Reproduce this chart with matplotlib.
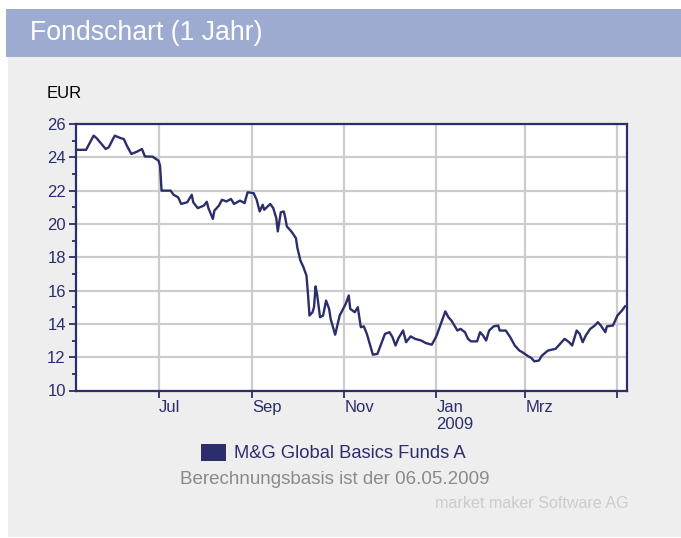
import matplotlib
matplotlib.use("Agg")
import matplotlib.pyplot as plt
from matplotlib.patches import Rectangle
from matplotlib.ticker import MultipleLocator
import datetime as dt

# ---- data ----
dates = [
    "2008-05-08", "2008-05-14", "2008-05-19", "2008-05-21", "2008-05-27", "2008-05-29",
    "2008-06-02", "2008-06-06", "2008-06-08", "2008-06-10", "2008-06-13", "2008-06-17",
    "2008-06-20", "2008-06-22", "2008-06-27", "2008-07-01", "2008-07-02", "2008-07-03",
    "2008-07-09", "2008-07-11", "2008-07-14", "2008-07-16", "2008-07-20", "2008-07-23",
    "2008-07-24", "2008-07-27", "2008-07-31", "2008-08-02", "2008-08-03", "2008-08-06",
    "2008-08-07", "2008-08-10", "2008-08-12", "2008-08-15", "2008-08-18", "2008-08-20",
    "2008-08-24", "2008-08-27", "2008-08-29", "2008-09-02", "2008-09-04", "2008-09-06",
    "2008-09-08", "2008-09-09", "2008-09-13", "2008-09-15", "2008-09-17", "2008-09-18",
    "2008-09-20", "2008-09-22", "2008-09-23", "2008-09-24", "2008-09-27", "2008-09-30",
    "2008-10-01", "2008-10-03", "2008-10-05", "2008-10-07", "2008-10-08", "2008-10-09",
    "2008-10-11", "2008-10-12", "2008-10-13", "2008-10-14", "2008-10-16", "2008-10-18",
    "2008-10-20", "2008-10-22", "2008-10-23", "2008-10-26", "2008-10-29", "2008-11-02",
    "2008-11-04", "2008-11-05", "2008-11-08", "2008-11-10", "2008-11-12", "2008-11-14",
    "2008-11-16", "2008-11-20", "2008-11-23", "2008-11-28", "2008-12-01", "2008-12-03",
    "2008-12-05", "2008-12-07", "2008-12-10", "2008-12-12", "2008-12-15", "2008-12-18",
    "2008-12-22", "2008-12-25", "2008-12-29", "2009-01-01", "2009-01-04", "2009-01-07",
    "2009-01-09", "2009-01-11", "2009-01-13", "2009-01-15", "2009-01-17", "2009-01-20",
    "2009-01-22", "2009-01-24", "2009-01-28", "2009-01-30", "2009-02-01", "2009-02-03",
    "2009-02-05", "2009-02-08", "2009-02-11", "2009-02-12", "2009-02-16", "2009-02-19",
    "2009-02-22", "2009-02-25", "2009-02-27", "2009-03-03", "2009-03-05", "2009-03-07",
    "2009-03-10", "2009-03-12", "2009-03-16", "2009-03-21", "2009-03-24", "2009-03-27",
    "2009-03-30", "2009-04-01", "2009-04-04", "2009-04-06", "2009-04-08", "2009-04-10",
    "2009-04-13", "2009-04-16", "2009-04-18", "2009-04-20", "2009-04-23", "2009-04-24",
    "2009-04-28", "2009-04-30", "2009-05-01", "2009-05-04", "2009-05-06",
]
prices = [
    24.45, 24.45, 25.30, 25.15, 24.50, 24.60,
    25.30, 25.15, 25.10, 24.70, 24.20, 24.35,
    24.50, 24.05, 24.04, 23.80, 23.50, 22.00,
    22.00, 21.75, 21.60, 21.20, 21.30, 21.75,
    21.30, 20.95, 21.10, 21.33, 20.96, 20.30,
    20.80, 21.10, 21.45, 21.35, 21.50, 21.20,
    21.40, 21.25, 21.90, 21.85, 21.45, 20.75,
    21.15, 20.85, 21.20, 20.95, 20.35, 19.55,
    20.70, 20.75, 20.35, 19.85, 19.55, 19.15,
    18.55, 17.80, 17.40, 16.90, 15.80, 14.50,
    14.70, 15.00, 16.25, 15.80, 14.40, 14.50,
    15.40, 14.90, 14.30, 13.35, 14.50, 15.20,
    15.70, 14.90, 14.70, 15.00, 13.80, 13.85,
    13.40, 12.15, 12.20, 13.40, 13.50, 13.20,
    12.70, 13.15, 13.60, 12.90, 13.25, 13.10,
    13.00, 12.85, 12.75, 13.25, 14.00, 14.75,
    14.40, 14.20, 13.90, 13.60, 13.70, 13.50,
    13.10, 12.95, 12.95, 13.50, 13.30, 13.00,
    13.60, 13.85, 13.90, 13.60, 13.60, 13.20,
    12.70, 12.40, 12.30, 12.05, 11.95, 11.75,
    11.80, 12.10, 12.40, 12.50, 12.80, 13.10,
    12.90, 12.70, 13.60, 13.40, 12.90, 13.30,
    13.70, 13.90, 14.10, 13.90, 13.50, 13.85,
    13.90, 14.30, 14.50, 14.80, 15.05,
]
tick_dates = ["2008-07-01", "2008-09-01", "2008-11-01", "2009-01-01", "2009-03-01", "2009-05-01"]
tick_labels = ["Jul", "Sep", "Nov", "Jan\n2009", "Mrz", ""]
y_ticks = [10, 12, 14, 16, 18, 20, 22, 24, 26]
series_name = "M&G Global Basics Funds A"
title = "Fondschart (1 Jahr)"
unit = "EUR"
note = "Berechnungsbasis ist der 06.05.2009"
credit = "market maker Software AG"

# ---- style ----
W, H = 681, 538
NAVY = "#2b2e6b"
HEADER = "#9dabd0"
PANEL = "#eeeeee"
GRID = "#cccccc"
FONT = ["Liberation Sans", "DejaVu Sans"]
plt.rcParams["font.family"] = FONT

fig = plt.figure(figsize=(W / 100, H / 100), dpi=100)
fig.patch.set_facecolor("white")


def fx(px):
    return px / W


def fy(py):
    return 1 - py / H


# background panels
fig.patches.append(Rectangle((fx(6), fy(57)), fx(W - 6), 48 / H, transform=fig.transFigure,
                             facecolor=HEADER, edgecolor="none", zorder=0))
fig.patches.append(Rectangle((fx(8), fy(537)), fx(W - 8), 480 / H, transform=fig.transFigure,
                             facecolor=PANEL, edgecolor="none", zorder=0))

fig.text(fx(30), fy(33), title, color="white", fontsize=19.2, va="center", ha="left")
fig.text(fx(47), fy(94), unit, color="black", fontsize=12, va="center", ha="left")

# axes
left, right, top, bottom = 75.5, 626.5, 124.0, 390.5
ax = fig.add_axes([fx(left), fy(bottom), fx(right - left), (bottom - top) / H])
ax.set_zorder(3)
ax.set_facecolor("white")

x = [dt.datetime.strptime(d, "%Y-%m-%d") for d in dates]
ax.plot(x, prices, color=NAVY, lw=1.7, zorder=3)

ax.set_xlim(dt.datetime(2008, 5, 7), dt.datetime(2009, 5, 7))
ax.set_ylim(10, 26)

ax.set_yticks(y_ticks)
ax.yaxis.set_minor_locator(MultipleLocator(1))
ax.set_xticks([dt.datetime.strptime(d, "%Y-%m-%d") for d in tick_dates])
ax.set_xticklabels(tick_labels)

ax.grid(True, which="major", color=GRID, lw=1.6, zorder=1)
for s in ax.spines.values():
    s.set_color(NAVY)
    s.set_linewidth(1.6)

ax.tick_params(axis="y", which="major", length=5, width=1.3, color=NAVY,
               labelcolor=NAVY, labelsize=12, pad=2)
ax.tick_params(axis="y", which="minor", length=3, width=1.3, color=NAVY)
ax.tick_params(axis="x", which="major", length=5, width=1.3, color=NAVY,
               labelcolor=NAVY, labelsize=12, pad=2)
for lbl in ax.get_xticklabels():
    lbl.set_horizontalalignment("left")
    lbl.set_linespacing(1.15)

# legend-like block and notes
fig.patches.append(Rectangle((fx(201), fy(461)), 25 / W, 17 / H, transform=fig.transFigure,
                             facecolor=NAVY, edgecolor="none", zorder=2))
fig.text(fx(234), fy(453), series_name, color=NAVY, fontsize=13.2, va="center", ha="left")
fig.text(fx(180), fy(480), note, color="#8a8a8a", fontsize=13.5, va="center", ha="left")
fig.text(fx(629), fy(504), credit, color="#cccccc", fontsize=11.6, va="center", ha="right")

fig.savefig("out.png", dpi=100, facecolor=fig.get_facecolor())
